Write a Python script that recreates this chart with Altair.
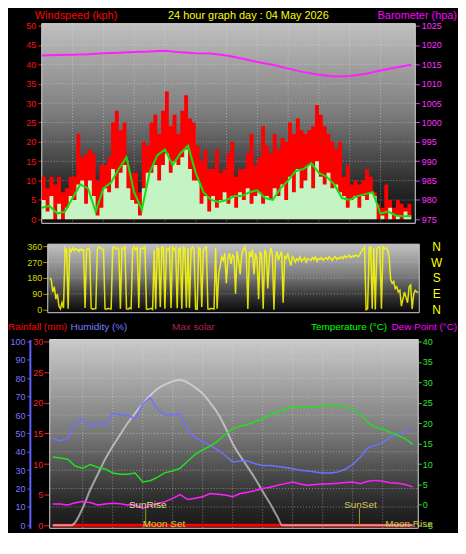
import altair as alt
import pandas as pd

FONT = "Liberation Sans"

# ---------------- data ----------------
hour_labels = [2, 4, 6, 8, 10, 12, 14, 16, 18, 20, 22, 24]
wind_ticks = [0, 5, 10, 15, 20, 25, 30, 35, 40, 45, 50]
baro_ticks = [975, 980, 985, 990, 995, 1000, 1005, 1010, 1015, 1020, 1025]
dir_ticks = [0, 90, 180, 270, 360]
hum_ticks = [0, 10, 20, 30, 40, 50, 60, 70, 80, 90, 100]
rain_ticks = [0, 5, 10, 15, 20, 25, 30]
temp_ticks = [-5, 0, 5, 10, 15, 20, 25, 30, 35, 40]

# wind gust (kph), every 15 min
gust = [11, 8, 11, 9,
        11, 7, 8, 11,
        11, 22, 16, 17,
        18, 17, 10, 14,
        14, 16, 25, 28,
        23, 25, 14, 12,
        12, 7, 20, 19,
        25, 27, 22, 28,
        33, 24, 27, 22,
        28, 32, 26, 25,
        19, 15, 18, 13,
        13, 18, 12, 13,
        17, 20, 11, 13,
        13, 17, 22, 14,
        16, 24, 19, 17,
        22, 18, 21, 20,
        25, 22, 26, 23,
        22, 23, 24, 29.5,
        27, 24, 22, 20,
        18, 20, 11, 14,
        9, 10, 9, 10,
        13, 11, 7, 4,
        3, 9, 5, 3,
        5, 4, 3, 4,
        4]
# wind speed (kph), every 15 min
speed = [5, 2, 6, 0,
         4, 0, 3, 6,
         5, 9, 10, 4,
         10, 6, 1, 3,
         8, 7, 13, 8,
         12, 14, 8, 5,
         4, 1, 8, 12,
         12, 14, 10, 14,
         17, 12, 15, 14,
         16, 18, 13, 10,
         10, 4, 6, 2,
         6, 3, 5, 7,
         4, 6, 3, 7,
         5, 8, 4, 6,
         7, 4, 6, 5,
         8, 6, 9, 5,
         11, 7, 13, 8,
         10, 14, 8, 15,
         11, 9, 12, 8,
         9, 7, 6, 3,
         5, 6, 3, 6,
         5, 7, 6, 0,
         1, 0, 3, 0,
         1, 0, 2, 1,
         1]
# average wind speed, every 30 min
wind_avg = [3, 3.5, 1.5, 2, 5.5, 9, 8, 2, 8, 9.5, 13, 16, 7, 2.5, 12, 16.5,
            18, 14, 17, 19, 12, 7, 5, 4.5, 5, 6, 6, 7, 7.5, 5.5, 5, 8,
            10, 12.5, 13, 14.5, 12, 11, 9, 5.5, 5, 6, 6.5, 7, 1.5, 2, 1, 0.8, 0.8]
# barometer (hpa), hourly
barometer = [1017.3, 1017.4, 1017.5, 1017.6, 1017.9, 1018.0, 1018.2, 1018.3, 1018.5,
             1018.1, 1017.9, 1017.8, 1017.3, 1016.5, 1015.6, 1014.9, 1013.9, 1013.0,
             1012.3, 1011.9, 1012.0, 1012.5, 1013.4, 1014.2, 1014.9]
# wind direction (deg), every 6 min
wind_dir = [180, 170, 100, 130, 60, 90, 20, 5, 40, 10,
            350, 340, 5, 345, 330, 350, 335, 345, 340, 330,
            345, 335, 340, 10, 340, 350, 335, 8, 3, 5,
            6, 340, 355, 350, 345, 340, 5, 3, 8, 5,
            4, 350, 355, 345, 350, 340, 5, 350, 345, 355,
            5, 3, 10, 6, 345, 355, 340, 350, 10, 345,
            350, 345, 355, 4, 3, 5, 8, 2, 340, 3,
            350, 345, 15, 355, 350, 5, 345, 340, 350, 10,
            355, 340, 350, 8, 345, 350, 5, 355, 348, 12,
            350, 10, 345, 355, 340, 5, 3, 350, 345, 15,
            340, 350, 355, 5, 3, 8, 5, 4, 350, 6,
            200, 250, 300, 280, 320, 150, 290, 320, 260, 310,
            300, 90, 330, 280, 200, 310, 340, 355, 320, 5,
            330, 300, 340, 200, 320, 290, 60, 330, 310, 5,
            340, 320, 120, 300, 350, 310, 0, 290, 330, 280,
            310, 330, 40, 300, 290, 320, 280, 250, 300, 290,
            270, 290, 280, 300, 275, 285, 295, 270, 290, 285,
            280, 295, 285, 300, 275, 290, 285, 295, 280, 290,
            295, 285, 300, 290, 280, 295, 300, 285, 295, 290,
            300, 290, 305, 295, 300, 310, 295, 305, 300, 310,
            305, 300, 315, 330, 345, 355, 0, 5, 350, 355,
            5, 350, 2, 345, 355, 350, 5, 355, 345, 350,
            340, 300, 170, 150, 160, 120, 130, 100, 110, 20,
            60, 100, 70, 40, 130, 140, 5, 90, 110, 100,
            100]
# every 30 min
humidity = [47.4, 46, 47, 56, 58, 53.5, 56, 54, 61, 60, 60, 58, 66, 69.5, 63, 60,
            60, 60.5, 52, 47.5, 45.5, 43.5, 41, 38, 34.5, 35, 35, 33.5, 32.5, 32.5, 32, 31.5,
            30.8, 30, 29.5, 29, 28.5, 28.5, 29, 30.5, 33, 37, 42, 43.5, 45, 48, 49.5, 51, 53.5]
temperature = [11.7, 11.5, 11.2, 9.5, 9, 9.9, 9.2, 8.8, 7.8, 7.5, 7.5, 7.8, 5.6, 5.9, 6.8, 7.9,
               8.3, 9, 10.7, 12.4, 13.5, 14.4, 15.6, 17.3, 18.6, 19.3, 19.7, 20.4, 21.1, 22.0, 22.8, 23.3,
               23.9, 23.9, 23.9, 24.0, 24.2, 24.4, 24.3, 24.0, 23.4, 22.2, 20.2, 19.0, 18.5, 17.8, 17.0, 16.2, 14.8]
dew_point = [0.2, 0.2, 0.0, 0.5, 0.8, 0.6, 0.0, 0.2, 0.4, 0.3, 0.0, 0.1, -0.9, -0.3, 0.4, 0.8,
             1.6, 2.5, 1.3, 1.6, 2.0, 2.8, 2.6, 2.4, 2.0, 2.8, 3.1, 3.5, 4.0, 4.3, 4.8, 5.2,
             5.6, 5.1, 4.8, 5.0, 5.1, 5.2, 5.3, 5.5, 5.6, 5.2, 5.8, 6.0, 5.8, 5.4, 5.3, 5.0, 4.4]
solar_t = [0, 1.25, 2, 2.5, 3, 3.5, 4, 4.5, 5, 5.5, 6, 6.5, 7, 7.5, 8, 8.5, 9, 9.5, 10,
           10.5, 11, 11.5, 12, 12.5, 13, 13.5, 14, 14.5, 15, 15.3, 24]
solar_v = [0, 0, 2.8, 5.8, 8.3, 10.8, 12.9, 14.8, 16.7, 18.3, 19.8, 21.2, 22.3, 23.0, 23.5,
           23.7, 23.3, 22.5, 21.5, 20.0, 18.3, 16.0, 13.3, 11.3, 9.5, 7.6, 5.5, 3.5, 1.3, 0, 0]
rain_t = [0, 24]
rain_v = [0, 0]
sun_t = [6.2, 20.45]
event_t = [6.2, 6.2, 20.45, 22.5]
event_name = ["SunRise", "Moon Set", "SunSet", "Moon Rise"]

t_q = [i * 0.25 for i in range(len(gust))]
t_h = [i * 0.5 for i in range(len(humidity))]
t_1 = list(range(len(barometer)))
t_d = [i * 0.1 for i in range(len(wind_dir))]

HEXPR = "datum.value == 24 ? '00' : (datum.value < 10 ? '0' + datum.value : '' + datum.value)"
one = pd.DataFrame({"a": [0]})


def grad(stops):
    return alt.Gradient(gradient="linear",
                        stops=[alt.GradientStop(offset=o, color=c) for o, c in stops],
                        x1=0, x2=0, y1=0, y2=1)


def sc(lo, hi):
    return alt.Scale(domain=[lo, hi], nice=False, zero=False)


def title_text(txt, x, y, color, size, align="left", baseline="top"):
    return alt.Chart(one).mark_text(text=txt, align=align, baseline=baseline, font=FONT,
                                    fontSize=size, color=color).encode(
        x=alt.value(x), y=alt.value(y))


GRID = dict(color="#e8e8e8", strokeDash=[1, 2], strokeWidth=1, opacity=0.45)

# ---------------- panel 1 : wind speed + barometer ----------------
x1s = sc(0, 24.26)
yw = sc(-1.026, 50.513)
yb = sc(973.974, 1025.513)

x_axis_hours = alt.Axis(values=hour_labels, labelExpr=HEXPR, labelColor="#f0f000", labelFont=FONT,
                        labelFontSize=9, tickColor="#8a8a60", tickSize=3, domain=False, grid=False,
                        labelPadding=2, labelFlush=False, title=None)

bg1 = alt.Chart(one).mark_rect(
    fill=grad([(0, "#c0c0c0"), (0.45, "#7c7c7c"), (0.8, "#2c2c2c"), (1, "#0a0a0a")]),
    stroke="#d8d8d8", strokeWidth=1).encode(
    x=alt.value(0), x2=alt.value("width"), y=alt.value(0), y2=alt.value("height"))
hg1 = alt.Chart(pd.DataFrame({"v": wind_ticks[1:-1]})).mark_rule(**GRID).encode(
    y=alt.Y("v:Q", scale=yw, axis=None))
vg1 = alt.Chart(pd.DataFrame({"h": hour_labels[:-1]})).mark_rule(**GRID).encode(
    x=alt.X("h:Q", scale=x1s, axis=None))

dfq = pd.DataFrame({"t": t_q, "gust": gust, "speed": speed})
gust_l = alt.Chart(dfq).mark_area(interpolate="step-after", color="#ff0000").encode(
    x=alt.X("t:Q", scale=x1s, axis=x_axis_hours),
    y=alt.Y("gust:Q", scale=yw, axis=alt.Axis(
        orient="left", values=wind_ticks, labelColor="#ff1010", tickColor="#ff1010", tickSize=4,
        labelFont=FONT, labelFontSize=9, labelPadding=2, domain=False, grid=False,
        labelFlush=False, title=None)))
speed_l = alt.Chart(dfq).mark_area(interpolate="step-after", color="#c4f4c4").encode(
    x=alt.X("t:Q", scale=x1s, axis=None), y=alt.Y("speed:Q", scale=yw, axis=None))
avg_l = alt.Chart(pd.DataFrame({"t": t_h, "avg": wind_avg})).mark_line(
    color="#10e010", strokeWidth=2).encode(
    x=alt.X("t:Q", scale=x1s, axis=None), y=alt.Y("avg:Q", scale=yw, axis=None))
baro_l = alt.Chart(pd.DataFrame({"t": t_1, "baro": barometer})).mark_line(
    color="#ff20ff", strokeWidth=2).encode(
    x=alt.X("t:Q", scale=x1s, axis=None),
    y=alt.Y("baro:Q", scale=yb, axis=alt.Axis(
        orient="right", values=baro_ticks, format="d", labelColor="#ff30ff", tickColor="#ff30ff",
        tickSize=4, labelFont=FONT, labelFontSize=9, labelPadding=2, domain=False, grid=False,
        labelFlush=False, title=None)))

p1 = alt.layer(
    bg1, hg1, vg1, gust_l, speed_l, avg_l, baro_l,
    title_text("Windspeed (kph)", -7, -14, "#ff0000", 11),
    title_text("24 hour graph day : 04 May 2026", 208, -14, "#ffff00", 11, align="center"),
    title_text("Barometer (hpa)", 418, -14, "#ff00ff", 11, align="right"),
).resolve_scale(y="independent").properties(width=376, height=201)

# ---------------- panel 2 : wind direction ----------------
x2s = sc(-0.5175, 24.062)
yd = sc(-50.625, 371.25)

bg2 = alt.Chart(one).mark_rect(
    fill=grad([(0, "#c2c2c2"), (0.45, "#7c7c7c"), (0.8, "#2c2c2c"), (1, "#080808")]),
    stroke="#d0d0d0", strokeWidth=1).encode(
    x=alt.value(6), x2=alt.value("width"), y=alt.value(0), y2=alt.value(69))
hg2 = alt.Chart(pd.DataFrame({"v": dir_ticks[1:-1]})).mark_rule(**GRID).encode(
    y=alt.Y("v:Q", scale=yd, axis=alt.Axis(
        orient="right", values=dir_ticks, ticks=False, domain=False, grid=False,
        labelExpr="datum.value == 90 ? 'E' : datum.value == 180 ? 'S' : datum.value == 270 ? 'W' : 'N'",
        labelColor="#ffff00", labelFont=FONT, labelFontSize=12, labelPadding=17,
        labelAlign="center", labelFlush=False, title=None)),
    x=alt.value(6), x2=alt.value("width"))
dir_l = alt.Chart(pd.DataFrame({"t": t_d, "d": wind_dir})).mark_line(
    color="#ffff00", strokeWidth=1.5, opacity=0.85).encode(
    x=alt.X("t:Q", scale=x2s, axis=None),
    y=alt.Y("d:Q", scale=yd, axis=alt.Axis(
        orient="left", offset=-6, values=dir_ticks, labelColor="#d8d800", tickColor="#9a9a00",
        tickSize=5, labelFont=FONT, labelFontSize=9, labelPadding=1, domain=False, grid=False,
        labelFlush=False, title=None)))

p2 = alt.layer(bg2, hg2, dir_l).resolve_scale(y="independent").properties(width=380, height=75)

# ---------------- panel 3 : humidity, rain, temperature ----------------
x3s = sc(-0.7285, 24.371)
yh = sc(-1.622, 101.08)
yr = sc(-0.4865, 30.324)
yt = sc(-5.7297, 40.4865)

bg3 = alt.Chart(one).mark_rect(
    fill=grad([(0, "#cacaca"), (0.5, "#787878"), (0.85, "#2c2c2c"), (1, "#181818")]),
    stroke="#d8d8d8", strokeWidth=1).encode(
    x=alt.value(8), x2=alt.value("width"), y=alt.value(0), y2=alt.value("height"))
hg3 = alt.Chart(pd.DataFrame({"v": hum_ticks[1:-1]})).mark_rule(**GRID).encode(
    y=alt.Y("v:Q", scale=yh, axis=None), x=alt.value(8), x2=alt.value("width"))
vg3 = alt.Chart(pd.DataFrame({"h": hour_labels[:-1]})).mark_rule(**GRID).encode(
    x=alt.X("h:Q", scale=x3s, axis=None))

rain_l = alt.Chart(pd.DataFrame({"t": rain_t, "r": rain_v})).mark_line(
    color="#ff0000", strokeWidth=3).encode(
    x=alt.X("t:Q", scale=x3s, axis=alt.Axis(
        values=hour_labels, labelExpr=HEXPR, labelColor="#f0f000", labelFont=FONT,
        labelFontSize=9, tickColor="#8a8a60", tickSize=3, domain=False, grid=False,
        labelPadding=2, labelFlush=False, title=None)),
    y=alt.Y("r:Q", scale=yr, axis=alt.Axis(
        orient="left", offset=-7, values=rain_ticks, labelColor="#ff2020", tickColor="#ff2020",
        tickSize=5, labelFont=FONT, labelFontSize=9, labelPadding=1, domain=False, grid=False,
        labelFlush=False, title=None)))
solar_l = alt.Chart(pd.DataFrame({"t": solar_t, "s": solar_v})).mark_line(
    color="#e8e8e8", strokeWidth=2, opacity=0.6, interpolate="monotone").encode(
    x=alt.X("t:Q", scale=x3s, axis=None), y=alt.Y("s:Q", scale=yr, axis=None))
hum_l = alt.Chart(pd.DataFrame({"t": t_h, "h": humidity})).mark_line(
    color="#7070ff", strokeWidth=1.5).encode(
    x=alt.X("t:Q", scale=x3s, axis=None),
    y=alt.Y("h:Q", scale=yh, axis=alt.Axis(
        orient="left", offset=12, values=hum_ticks, labelColor="#7878ff", tickColor="#6060ff",
        tickSize=3, domainColor="#6060ff", domainWidth=2, labelFont=FONT, labelFontSize=9,
        labelPadding=2, grid=False, labelFlush=False, title=None)))
temp_l = alt.Chart(pd.DataFrame({"t": t_h, "T": temperature})).mark_line(
    color="#20e020", strokeWidth=1.5).encode(
    x=alt.X("t:Q", scale=x3s, axis=None),
    y=alt.Y("T:Q", scale=yt, axis=alt.Axis(
        orient="right", values=temp_ticks, labelColor="#30e030", tickColor="#30e030",
        tickSize=3, labelFont=FONT, labelFontSize=9, labelPadding=1, domain=False, grid=False,
        labelFlush=False, title=None)))
dew_l = alt.Chart(pd.DataFrame({"t": t_h, "D": dew_point})).mark_line(
    color="#ff20ff", strokeWidth=1.5).encode(
    x=alt.X("t:Q", scale=x3s, axis=None), y=alt.Y("D:Q", scale=yt, axis=None))

sun_rules = alt.Chart(pd.DataFrame({"t": sun_t})).mark_rule(color="#a09a20", strokeWidth=1).encode(
    x=alt.X("t:Q", scale=x3s, axis=None), y=alt.value(170), y2=alt.value(188))


def event_text(i, y, align, dx, color):
    return alt.Chart(pd.DataFrame({"t": [event_t[i]], "n": [event_name[i]]})).mark_text(
        align=align, baseline="middle", dx=dx, font=FONT, fontSize=10, color=color).encode(
        x=alt.X("t:Q", scale=x3s, axis=None), y=alt.value(y), text="n:N")


p3 = alt.layer(
    bg3, hg3, vg3, rain_l, solar_l, hum_l, temp_l, dew_l, sun_rules,
    event_text(0, 167, "center", 2, "#e8e090"),
    event_text(1, 186, "left", -3, "#d8d040"),
    event_text(2, 167, "center", 1, "#d8c860"),
    event_text(3, 186, "left", -5, "#d0c050"),
    title_text("Rainfall (mm)", -34, -13, "#ff0000", 10, baseline="middle"),
    title_text("Humidity (%)", 29, -13, "#7b7bff", 10, baseline="middle"),
    title_text("Max solar", 131, -13, "#b0205a", 10, baseline="middle"),
    title_text("Temperature (°C)", 271, -13, "#00ff00", 10, baseline="middle"),
    title_text("Dew Point (°C)", 352, -13, "#ff00ff", 10, baseline="middle"),
).resolve_scale(y="independent").properties(width=379, height=190)

chart = alt.vconcat(p1, p2, p3, spacing=21, bounds="flush").properties(
    padding=0
).configure(background="#000000", font=FONT).configure_view(stroke=None)

chart.save("out.html", embed_options={"renderer": "svg", "actions": False})
